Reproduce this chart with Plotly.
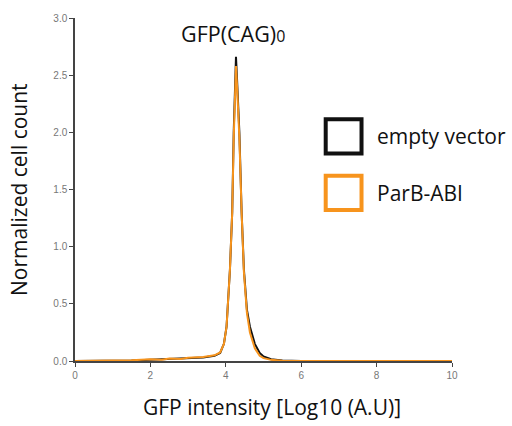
import plotly.graph_objects as go

# Data (GFP intensity in log10 units vs normalized count)
x_empty = [0, 1.0, 1.5, 2.0, 2.5, 3.0, 3.4, 3.7, 3.85, 3.95, 4.02, 4.11, 4.17, 4.21, 4.24, 4.27,
           4.30, 4.36, 4.42, 4.48, 4.56, 4.64, 4.77, 4.9, 5.0, 5.2, 5.5, 6.0, 8.0, 10.0]
y_empty = [0, 0.002, 0.005, 0.012, 0.018, 0.022, 0.03, 0.045, 0.07, 0.15, 0.3, 0.8, 1.3, 2.0, 2.45, 2.66,
           2.45, 2.0, 1.3, 0.8, 0.45, 0.3, 0.15, 0.07, 0.04, 0.015, 0.004, 0.001, 0, 0]

x_parb = [0, 1.0, 1.5, 2.0, 2.3, 2.5, 2.8, 3.0, 3.4, 3.7, 3.85, 3.95, 4.02, 4.11, 4.17, 4.21, 4.24, 4.27,
          4.30, 4.36, 4.42, 4.48, 4.56, 4.64, 4.77, 4.9, 5.0, 5.2, 5.5, 6.0, 8.0, 10.0]
y_parb = [0, 0.003, 0.006, 0.015, 0.012, 0.022, 0.018, 0.028, 0.035, 0.05, 0.075, 0.15, 0.3, 0.8, 1.3, 1.95, 2.4, 2.58,
          2.4, 1.95, 1.3, 0.78, 0.42, 0.25, 0.11, 0.045, 0.025, 0.01, 0.003, 0.001, 0, 0]

series_names = ["empty vector", "ParB-ABI"]
series_colors = ["#111111", "#F7941D"]

x_ticks = [0, 2, 4, 6, 8, 10]
y_ticks = [0.0, 0.5, 1.0, 1.5, 2.0, 2.5, 3.0]

fig = go.Figure()
fig.add_trace(go.Scatter(x=x_empty, y=y_empty, mode="lines", name=series_names[0],
                         line=dict(color=series_colors[0], width=2), showlegend=False))
fig.add_trace(go.Scatter(x=x_parb, y=y_parb, mode="lines", name=series_names[1],
                         line=dict(color=series_colors[1], width=2), showlegend=False))

axis_common = dict(showgrid=False, zeroline=False, showline=True, linecolor="#444444", linewidth=1.5,
                   ticks="outside", ticklen=4, tickwidth=1.2, tickcolor="#444444",
                   tickfont=dict(family="Liberation Sans, Arial", size=10, color="#777777"))

fig.update_xaxes(range=[0, 10], tickvals=x_ticks, ticktext=[str(v) for v in x_ticks], **axis_common)
fig.update_yaxes(range=[0, 3], tickvals=y_ticks, ticktext=[f"{v:.1f}" for v in y_ticks], **axis_common)

title_font = dict(family="Open Sans, Noto Sans", size=21, color="#111111")

annotations = [
    dict(text="Normalized cell count", x=-0.15, y=0.5, xref="paper", yref="paper",
         textangle=-90, showarrow=False, font=title_font, xanchor="center", yanchor="middle"),
    dict(text="GFP intensity [Log10 (A.U)]", x=0.523, y=-0.133, xref="paper", yref="paper",
         showarrow=False, font=title_font, xanchor="center", yanchor="middle"),
    dict(text="GFP(CAG)<span style='font-size:16px'>0</span>", x=0.419, y=0.955, xref="paper", yref="paper",
         showarrow=False, font=dict(family="Open Sans, Noto Sans", size=21.5, color="#111111"),
         xanchor="center", yanchor="middle"),
]

# legend drawn manually
legend_y = [0.655, 0.49]
shapes = []
for name, color, ly in zip(series_names, series_colors, legend_y):
    shapes.append(dict(type="rect", xref="paper", yref="paper",
                       x0=0.665, x1=0.76, y0=ly - 0.05, y1=ly + 0.05,
                       line=dict(color=color, width=4), fillcolor="rgba(0,0,0,0)"))
    annotations.append(dict(text=name, x=0.797, y=ly, xref="paper", yref="paper", showarrow=False,
                            font=title_font, xanchor="left", yanchor="middle"))

fig.update_layout(width=512, height=426, margin=dict(l=75, r=60, t=12, b=65),
                  paper_bgcolor="white", plot_bgcolor="white",
                  annotations=annotations, shapes=shapes, showlegend=False)

fig.write_html("out.html", config={"displayModeBar": False},
               post_script="document.body.style.margin='0';")
